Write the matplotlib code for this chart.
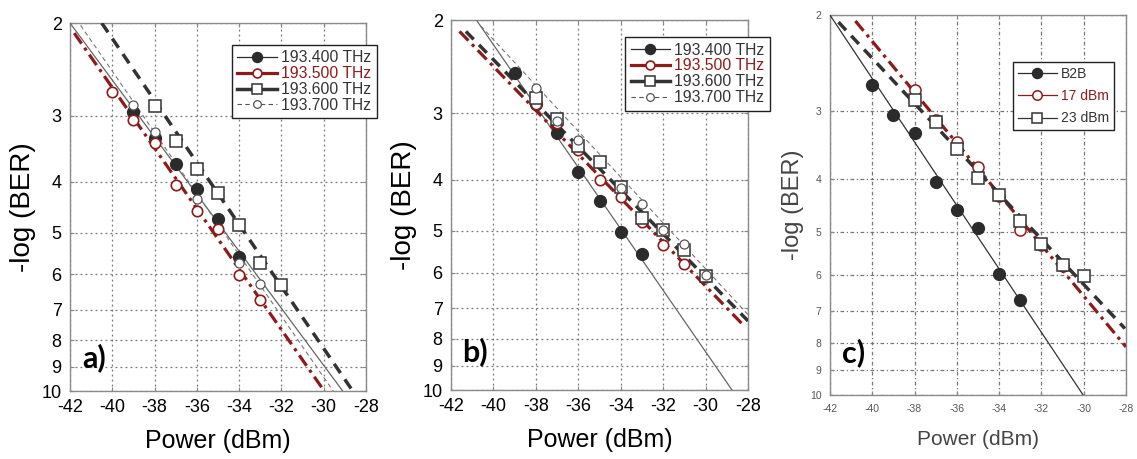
import matplotlib
matplotlib.use("Agg")
import matplotlib.pyplot as plt
from matplotlib.lines import Line2D
from matplotlib.ticker import FixedLocator, NullLocator, FixedFormatter

plt.rcParams['font.family'] = ['Liberation Sans', 'DejaVu Sans']
plt.rcParams['axes.unicode_minus'] = False

# ---- data ----
x_ticks = [-42, -40, -38, -36, -34, -32, -30, -28]
y_ticks = [2, 3, 4, 5, 6, 7, 8, 9, 10]
labels_ab = ['193.400 THz', '193.500 THz', '193.600 THz', '193.700 THz']
labels_c = ['B2B', '17 dBm', '23 dBm']

# panel a) measured points
a_x_400 = [-39, -38, -37, -36, -35, -34]
a_y_400 = [2.95, 3.31, 3.71, 4.13, 4.71, 5.56]
a_x_500 = [-40, -39, -38, -37, -36, -35, -34, -33]
a_y_500 = [2.70, 3.06, 3.38, 4.06, 4.55, 4.93, 6.02, 6.72]
a_x_600 = [-38, -37, -36, -35, -34, -33, -32]
a_y_600 = [2.87, 3.35, 3.78, 4.21, 4.83, 5.71, 6.29]
a_x_700 = [-39, -38, -36, -34, -33]
a_y_700 = [2.86, 3.22, 4.31, 5.70, 6.25]
# panel a) fit lines (end points)
a_fx_400, a_fy_400 = [-42.0, -29.1], [2.0, 10.0]
a_fx_500, a_fy_500 = [-41.8, -30.05], [2.09, 9.9]
a_fx_600, a_fy_600 = [-40.5, -28.7], [2.0, 9.9]
a_fx_700, a_fy_700 = [-41.5, -29.55], [2.02, 10.0]

# panel b) measured points
b_x_400 = [-39, -38, -37, -36, -35, -34, -33]
b_y_400 = [2.52, 2.88, 3.26, 3.87, 4.40, 5.02, 5.54]
b_x_500 = [-38, -37, -36, -35, -34, -33, -32, -31, -30]
b_y_500 = [2.88, 3.13, 3.52, 4.01, 4.31, 4.81, 5.32, 5.77, 6.11]
b_x_600 = [-38, -37, -36, -35, -34, -33, -32, -31, -30]
b_y_600 = [2.80, 3.08, 3.46, 3.71, 4.13, 4.72, 4.98, 5.44, 6.09]
b_x_700 = [-38, -37, -36, -34, -33, -32, -31, -30]
b_y_700 = [2.69, 3.10, 3.37, 4.15, 4.45, 4.98, 5.30, 6.05]
# panel b) fit lines
b_fx_400, b_fy_400 = [-40.8, -28.75], [2.0, 10.0]
b_fx_500, b_fy_500 = [-41.6, -28.2], [2.1, 7.55]
b_fx_600, b_fy_600 = [-41.3, -28.0], [2.1, 7.4]
b_fx_700, b_fy_700 = [-40.6, -28.0], [2.05, 7.2]

# panel c) measured points
c_x_b2b = [-40, -39, -38, -37, -36, -35, -34, -33]
c_y_b2b = [2.69, 3.05, 3.30, 4.05, 4.56, 4.92, 5.99, 6.69]
c_x_17 = [-38, -37, -36, -35, -34, -33, -32, -31]
c_y_17 = [2.75, 3.12, 3.42, 3.81, 4.31, 4.97, 5.30, 5.79]
c_x_23 = [-38, -37, -36, -35, -34, -33, -32, -31, -30]
c_y_23 = [2.87, 3.14, 3.52, 3.99, 4.28, 4.78, 5.28, 5.76, 6.04]
# panel c) fit lines
c_fx_b2b, c_fy_b2b = [-42.0, -30.02], [2.0, 10.0]
c_fx_17, c_fy_17 = [-40.8, -28.0], [2.05, 8.15]
c_fx_23, c_fy_23 = [-41.6, -28.05], [2.06, 7.54]

DARK = '#2b2b2b'
RED = '#8e1b1b'
GRAY = '#666666'

# series styles: (marker dict, fit line dict, legend line dict, text colour)
st_400 = (dict(marker='o', ms=8.5, mfc=DARK, mec=DARK, mew=1),
          dict(color=GRAY, lw=0.9, ls='-'),
          dict(color=DARK, lw=0.9, ls='-'), '#333333')
st_500 = (dict(marker='o', ms=7.5, mfc='white', mec=RED, mew=1.2),
          dict(color=RED, lw=2.3, ls=(0, (4, 1.6, 1, 1.6))),
          dict(color=RED, lw=2.3, ls='-'), RED)
st_600 = (dict(marker='s', ms=8.5, mfc='white', mec='#333333', mew=1.1),
          dict(color='#333333', lw=2.5, ls=(0, (3.2, 2.2))),
          dict(color='#333333', lw=2.5, ls='-'), '#333333')
st_700 = (dict(marker='o', ms=6.5, mfc='white', mec='#555555', mew=0.9),
          dict(color='#777777', lw=0.8, ls=(0, (4, 3))),
          dict(color='#555555', lw=0.8, ls=(0, (4, 3))), '#333333')


def setup_axes(ax, tick_size, tick_color, grid_ls):
    ax.set_yscale('log')
    ax.set_xlim(-42, -28)
    ax.set_ylim(10, 2)
    ax.xaxis.set_major_locator(FixedLocator(x_ticks))
    ax.set_xticklabels([str(v) for v in x_ticks])
    ax.yaxis.set_major_locator(FixedLocator(y_ticks))
    ax.yaxis.set_major_formatter(FixedFormatter([str(v) for v in y_ticks]))
    ax.yaxis.set_minor_locator(NullLocator())
    ax.tick_params(direction='in', length=3, top=True, right=True,
                   labelsize=tick_size, labelcolor=tick_color, color='#888888', pad=6)
    ax.grid(True, color='#777777', lw=0.9, ls=grid_ls)
    for s in ax.spines.values():
        s.set_color('#8a8a8a')
        s.set_linewidth(1.0)


def draw(ax, pts, fits, styles):
    for (px, py), (fx, fy), st in zip(pts, fits, styles):
        ax.plot(fx, fy, **st[1], zorder=3)
        ax.plot(px, py, ls='none', **st[0], zorder=4)


def legend(ax, styles, labels, anchor, size, spacing, hl):
    handles = [Line2D([], [], **st[2], **st[0]) for st in styles]
    leg = ax.legend(handles, labels, loc='upper left', bbox_to_anchor=anchor,
                    bbox_transform=fig.transFigure, fontsize=size, frameon=True,
                    fancybox=False, framealpha=1, edgecolor='#222222',
                    labelspacing=spacing, handlelength=hl, handletextpad=0.3,
                    borderpad=0.35, borderaxespad=0, markerscale=0.85)
    leg.get_frame().set_linewidth(1.0)
    for t, st in zip(leg.get_texts(), styles):
        t.set_color(st[3])
    leg.set_zorder(10)
    return leg


fig = plt.figure(figsize=(11.37, 4.59), dpi=100)
ax_a = fig.add_axes([0.0616, 0.148, 0.2603, 0.8017])
ax_b = fig.add_axes([0.3967, 0.150, 0.2612, 0.806])
ax_c = fig.add_axes([0.7300, 0.139, 0.2603, 0.828])

styles_ab = [st_400, st_500, st_600, st_700]

# a)
setup_axes(ax_a, 13, 'black', (0, (1.5, 2.5)))
draw(ax_a,
     [(a_x_400, a_y_400), (a_x_500, a_y_500), (a_x_600, a_y_600), (a_x_700, a_y_700)],
     [(a_fx_400, a_fy_400), (a_fx_500, a_fy_500), (a_fx_600, a_fy_600), (a_fx_700, a_fy_700)],
     styles_ab)
legend(ax_a, styles_ab, labels_ab, (0.204, 0.902), 11.3, 0.05, 2.5)

# b)
setup_axes(ax_b, 13, 'black', (0, (1.5, 2.5)))
draw(ax_b,
     [(b_x_400, b_y_400), (b_x_500, b_y_500), (b_x_600, b_y_600), (b_x_700, b_y_700)],
     [(b_fx_400, b_fy_400), (b_fx_500, b_fy_500), (b_fx_600, b_fy_600), (b_fx_700, b_fy_700)],
     styles_ab)
legend(ax_b, styles_ab, labels_ab, (0.5497, 0.919), 11.3, 0.05, 2.5)

# c)
styles_c = [
    (dict(marker='o', ms=8.5, mfc=DARK, mec=DARK, mew=1),
     dict(color='#333333', lw=0.9, ls='-'), dict(color=DARK, lw=0.9, ls='-'), '#333333'),
    (dict(marker='o', ms=8, mfc='white', mec=RED, mew=1.1),
     dict(color=RED, lw=2.3, ls=(0, (4, 1.6, 1, 1.6))), dict(color=RED, lw=0.9, ls='-'), RED),
    (dict(marker='s', ms=9, mfc='white', mec='#333333', mew=1.1),
     dict(color='#333333', lw=2.5, ls=(0, (3.2, 2.2))), dict(color='#333333', lw=0.9, ls='-'), '#333333'),
]
setup_axes(ax_c, 7.5, '#555555', (0, (3, 2, 1, 2)))
draw(ax_c,
     [(c_x_b2b, c_y_b2b), (c_x_17, c_y_17), (c_x_23, c_y_23)],
     [(c_fx_b2b, c_fy_b2b), (c_fx_17, c_fy_17), (c_fx_23, c_fy_23)],
     styles_c)
legend(ax_c, styles_c, labels_c, (0.891, 0.865), 10, 0.6, 2.8)

for ax, fs, col, lp in [(ax_a, 18, 'black', 9), (ax_b, 18, 'black', 9), (ax_c, 15, '#444444', 12)]:
    ax.set_xlabel('Power (dBm)', fontsize=fs, color=col, labelpad=lp)
    ax.set_ylabel('-log (BER)', fontsize=fs + 2, color=col, labelpad=4)

for ax, lab, (tx, ty) in [(ax_a, 'a)', (0.04, 0.092)), (ax_b, 'b)', (0.037, 0.103)),
                          (ax_c, 'c)', (0.04, 0.113))]:
    ax.text(tx, ty, lab, transform=ax.transAxes, fontsize=22, fontweight='bold',
            family=['Lato', 'DejaVu Sans'], ha='left', va='center', zorder=6)

fig.savefig('out.png', dpi=100)
